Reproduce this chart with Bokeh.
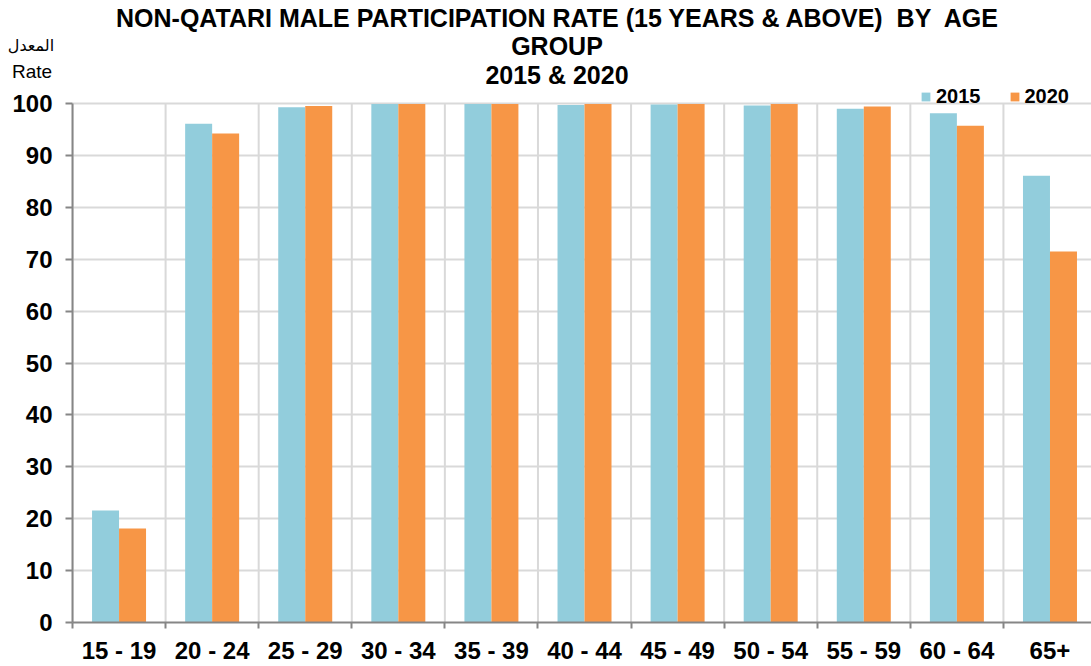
import numpy as np
from bokeh.plotting import figure
from bokeh.models import FixedTicker, Legend, LegendItem, ColumnDataSource, Range1d, Div
from bokeh.layouts import column
from bokeh.embed import file_html
from bokeh.resources import INLINE

categories = ["15 - 19", "20 - 24", "25 - 29", "30 - 34", "35 - 39", "40 - 44",
              "45 - 49", "50 - 54", "55 - 59", "60 - 64", "65+"]
rate_2015 = [21.6, 96.1, 99.3, 99.9, 99.9, 99.7, 99.8, 99.6, 99.0, 98.1, 86.1]
rate_2020 = [18.1, 94.2, 99.5, 99.9, 99.9, 99.9, 99.9, 99.9, 99.4, 95.7, 71.5]
yticks = list(range(0, 101, 10))
series_names = ["2015", "2020"]
title_lines = ["NON-QATARI MALE PARTICIPATION RATE (15 YEARS &amp; ABOVE)  BY  AGE",
               "GROUP", "2015 &amp; 2020"]
axis_caption = ["المعدل", "Rate"]

BLUE = "#92CDDC"
ORANGE = "#F79646"
GRID = "#D9D9D9"
AXIS = "#868686"
FONT = "Liberation Sans"

n = len(categories)
idx = np.arange(n)

HEAD_H = 84
W, H = 1091, 666

header_html = f"""
<div style="position:relative;width:{W}px;height:{HEAD_H}px;font-family:'Liberation Sans',Arial,sans-serif;color:#000;">
  <div style="position:absolute;left:57px;width:1000px;top:4px;text-align:center;font-weight:bold;
              font-size:25px;line-height:28.3px;white-space:pre;">{'<br>'.join(title_lines)}</div>
  <div style="position:absolute;left:0px;width:62px;top:36px;text-align:center;font-family:'DejaVu Sans',sans-serif;
              font-size:16px;line-height:20px;">{axis_caption[0]}</div>
  <div style="position:absolute;left:0px;width:64px;top:61px;text-align:center;font-size:19px;line-height:22px;">{axis_caption[1]}</div>
</div>
"""
header = Div(text=header_html, width=W, height=HEAD_H, margin=0)

# y range top chosen so that 100 sits at the same height as in the reference
y_top = 100 + (103 - HEAD_H) / 5.19

p = figure(width=W, height=H - HEAD_H, output_backend="svg", toolbar_location=None,
           x_range=Range1d(-0.5, 10.446), y_range=Range1d(0, y_top),
           min_border_left=72, min_border_right=0, min_border_top=0, min_border_bottom=44)
p.outline_line_color = None
p.background_fill_color = "white"
p.border_fill_color = "white"

# vertical grid lines at category boundaries, spanning the value axis
bounds_x = [i - 0.5 for i in range(n + 1)]
p.segment(x0=bounds_x, x1=bounds_x, y0=[yticks[0]] * (n + 1), y1=[yticks[-1]] * (n + 1),
          line_color=GRID, line_width=2, level="underlay")

src = ColumnDataSource(dict(x1=idx - 0.145, x2=idx + 0.145, a=rate_2015, b=rate_2020))
bw = 0.29
r1 = p.vbar(x="x1", top="a", width=bw, source=src, fill_color=BLUE, line_color=None)
r2 = p.vbar(x="x2", top="b", width=bw, source=src, fill_color=ORANGE, line_color=None)

# x axis
xa = p.xaxis[0]
xa.ticker = FixedTicker(ticks=list(idx), minor_ticks=bounds_x)
xa.major_label_overrides = {int(i): c for i, c in zip(idx, categories)}
xa.major_tick_out = 0
xa.major_tick_in = 0
xa.minor_tick_out = 6
xa.minor_tick_in = 0
xa.minor_tick_line_color = AXIS
xa.minor_tick_line_width = 2
xa.axis_line_color = AXIS
xa.axis_line_width = 2
xa.major_label_text_font = FONT
xa.major_label_text_font_style = "bold"
xa.major_label_text_font_size = "24px"
xa.major_label_text_color = "black"
xa.major_label_standoff = 8

# y axis
ya = p.yaxis[0]
ya.ticker = FixedTicker(ticks=yticks)
ya.bounds = (yticks[0], yticks[-1])
ya.major_tick_out = 7
ya.major_tick_in = 0
ya.major_tick_line_color = AXIS
ya.major_tick_line_width = 2
ya.minor_tick_line_color = None
ya.axis_line_color = AXIS
ya.axis_line_width = 2
ya.major_label_text_font = FONT
ya.major_label_text_font_style = "bold"
ya.major_label_text_font_size = "24px"
ya.major_label_text_color = "black"
ya.major_label_standoff = 13

# grids
p.xgrid.grid_line_color = None
p.ygrid.grid_line_color = GRID
p.ygrid.grid_line_width = 2

legend = Legend(items=[LegendItem(label=series_names[0], renderers=[r1]),
                       LegendItem(label=series_names[1], renderers=[r2])],
                location=(848, 514), orientation="horizontal",
                glyph_width=11, glyph_height=11, label_standoff=5, spacing=28,
                padding=0, margin=0, border_line_color=None, background_fill_alpha=0,
                label_text_font=FONT, label_text_font_style="bold",
                label_text_font_size="20px", label_text_color="black")
p.add_layout(legend, "center")

open("out.html", "w").write(file_html(column(header, p, spacing=0), INLINE))
